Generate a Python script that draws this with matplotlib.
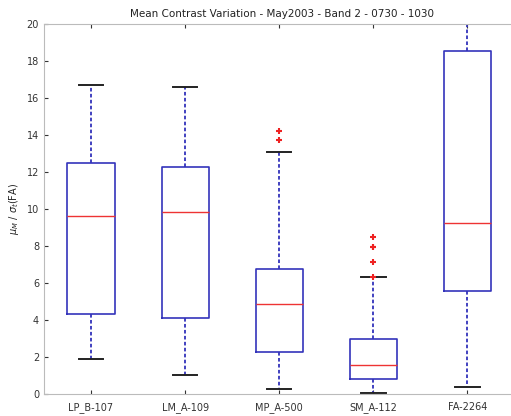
import matplotlib
matplotlib.use("Agg")
import matplotlib.pyplot as plt

# five-number summaries per test case
labels = ['LP_B-107', 'LM_A-109', 'MP_A-500', 'SM_A-112', 'FA-2264']
whislo = [1.9, 1.0, 0.25, 0.07, 0.4]
q1 = [4.3, 4.1, 2.25, 0.83, 5.58]
med = [9.65, 9.85, 4.85, 1.57, 9.25]
q3 = [12.5, 12.25, 6.75, 2.99, 18.54]
whishi = [16.7, 16.6, 13.08, 6.3, 21.5]
fliers = [[], [], [13.71, 14.23], [6.3, 7.15, 7.93, 7.97, 8.47], []]

stats = []
for i in range(len(labels)):
    stats.append({'label': labels[i], 'whislo': whislo[i], 'q1': q1[i],
                  'med': med[i], 'q3': q3[i], 'whishi': whishi[i],
                  'fliers': fliers[i]})

fig = plt.figure(figsize=(5.11, 4.16), dpi=100)
# axes run slightly past the right edge of the figure
ax = fig.add_axes([0.086, 0.053, 0.93, 0.889])

ax.bxp(stats, widths=0.5, capwidths=0.26,
       boxprops=dict(color='#3333bb', linewidth=1.2),
       medianprops=dict(color='#ee3333', linewidth=1.0),
       whiskerprops=dict(color='#3333bb', linestyle=(0, (2, 1.3)), linewidth=1.3),
       capprops=dict(color='#222222', linewidth=1.4),
       flierprops=dict(marker='+', markeredgecolor='#ee2222', markersize=5,
                       markeredgewidth=1.5, linestyle='none'))

ax.set_xlim(0.5, 5.55)
ax.set_ylim(0, 20)
ax.set_yticks(range(0, 21, 2))
ax.tick_params(direction='in', labelsize=7, colors='#333333', length=3,
               top=True)
ax.tick_params(axis='x', pad=6)
for s in ax.spines.values():
    s.set_color('#bbbbbb')
    s.set_linewidth(0.8)

ax.set_title('Mean Contrast Variation - May2003 - Band 2 - 0730 - 1030',
             fontsize=7.5, color='#222222', pad=5)
ax.set_ylabel(r'$\mu_M$ / $\sigma_t$(FA)', fontsize=7, color='#222222')

fig.savefig('out.png', dpi=100)
